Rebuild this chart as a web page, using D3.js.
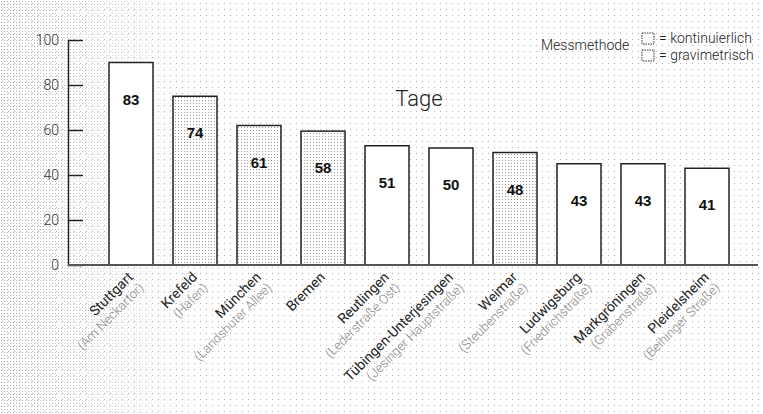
<!DOCTYPE html>
<html>
<head>
<meta charset="utf-8">
<script src="https://cdn.jsdelivr.net/npm/d3@7"></script>
<style>
  body { margin: 0; background: #fff; }
  svg { display: block; font-family: "Liberation Sans", Arial, sans-serif; }
</style>
</head>
<body>
<div id="chart"></div>
<script>
// Messstationen
var cities = ["Stuttgart", "Krefeld", "München", "Bremen", "Reutlingen",
  "Tübingen-Unterjesingen", "Weimar", "Ludwigsburg", "Markgröningen", "Pleidelsheim"];
var stations = ["(Am Neckartor)", "(Hafen)", "(Landshuter Allee)", "", "(Lederstraße Ost)",
  "(Jesinger Hauptstraße)", "(Steubenstraße)", "(Friedrichstraße)", "(Grabenstraße)", "(Beihinger Straße)"];
// Zahlen auf den Balken (Tage)
var tage = [83, 74, 61, 58, 51, 50, 48, 43, 43, 41];
// Balkenhöhen
var barValues = [90, 75, 62, 59.5, 53, 52, 50, 45, 45, 43];
// k = kontinuierlich, g = gravimetrisch
var methode = ["k", "g", "g", "g", "k", "k", "g", "k", "k", "k"];
var yTicks = [0, 20, 40, 60, 80, 100];
var legendItems = ["= kontinuierlich", "= gravimetrisch"];

var w = 763, h = 414;

var svg = d3.select("#chart").append("svg")
  .attr("width", w)
  .attr("height", h);

var defs = svg.append("defs");

// Punktraster fuer gravimetrische Balken
var dense = defs.append("pattern")
  .attr("id", "dense")
  .attr("width", 3).attr("height", 3)
  .attr("patternUnits", "userSpaceOnUse");
dense.append("rect").attr("width", 3).attr("height", 3).attr("fill", "#fff");
dense.append("rect").attr("x", 1).attr("y", 1).attr("width", 1).attr("height", 1).attr("fill", "#9a9a9a");

// lockeres Raster fuer den Hintergrund
var sparse = defs.append("pattern")
  .attr("id", "sparse")
  .attr("width", 6).attr("height", 6)
  .attr("patternUnits", "userSpaceOnUse");
sparse.append("rect").attr("x", 2).attr("y", 3).attr("width", 1).attr("height", 1).attr("fill", "#b0b0b0");

var bgDense = defs.append("pattern")
  .attr("id", "bgDense")
  .attr("width", 3).attr("height", 3)
  .attr("patternUnits", "userSpaceOnUse");
bgDense.append("rect").attr("x", 1).attr("y", 1).attr("width", 1).attr("height", 1).attr("fill", "#aaa");

var grad = defs.append("linearGradient").attr("id", "fade");
grad.append("stop").attr("offset", "0%").attr("stop-color", "#fff").attr("stop-opacity", 1);
grad.append("stop").attr("offset", "100%").attr("stop-color", "#fff").attr("stop-opacity", 0);
defs.append("mask").attr("id", "fadeMask")
  .append("rect").attr("width", 220).attr("height", h).attr("fill", "url(#fade)");

//Hintergrund
svg.append("rect").attr("width", w).attr("height", h).attr("fill", "url(#sparse)");
svg.append("rect").attr("width", 220).attr("height", h)
  .attr("fill", "url(#bgDense)").attr("mask", "url(#fadeMask)");

var x = d3.scaleBand()
  .domain(cities)
  .range([109, 729])
  .paddingInner(0.3125)
  .paddingOuter(0);

var y = d3.scaleLinear()
  .domain([0, 100])
  .range([265, 40]);

// Balken
var bars = svg.append("g");
bars.selectAll("rect")
  .data(cities)
  .enter()
  .append("rect")
  .attr("x", function(d) { return x(d); })
  .attr("y", function(d, i) { return y(barValues[i]); })
  .attr("width", x.bandwidth())
  .attr("height", function(d, i) { return y(0) - y(barValues[i]); })
  .attr("fill", function(d, i) { return methode[i] == "g" ? "url(#dense)" : "#fff"; })
  .attr("stroke", "#222")
  .attr("stroke-width", 1.5);

// Werte
bars.selectAll("text")
  .data(cities)
  .enter()
  .append("text")
  .attr("x", function(d) { return x(d) + x.bandwidth() / 2; })
  .attr("y", function(d, i) { return y(barValues[i]) + 42; })
  .attr("text-anchor", "middle")
  .style("font-size", "15px")
  .style("font-weight", "bold")
  .style("fill", "#111")
  .text(function(d, i) { return tage[i]; });

// y-Achse
var yAxis = d3.axisLeft(y)
  .tickValues(yTicks)
  .tickSizeInner(-15)
  .tickSizeOuter(0)
  .tickPadding(9);

var yBar = svg.append("g")
  .attr("transform", "translate(68,0)")
  .call(yAxis);
yBar.select(".domain").attr("stroke", "#222").attr("stroke-width", 1.5);
yBar.selectAll(".tick line").attr("stroke", "#222").attr("stroke-width", 1.5);
yBar.selectAll(".tick text")
  .style("font-size", "14px")
  .style("font-family", "Roboto, 'Liberation Sans', sans-serif")
  .style("font-weight", 300)
  .style("fill", "#333");

// Grundlinie
svg.append("line")
  .attr("x1", 68).attr("x2", 758)
  .attr("y1", y(0)).attr("y2", y(0))
  .attr("stroke", "#555")
  .attr("stroke-width", 2);

// Beschriftung der Stationen
var labels = svg.append("g").selectAll("g")
  .data(cities)
  .enter()
  .append("g")
  .attr("transform", function(d) {
    return "translate(" + (x(d) + x.bandwidth() / 2 + 3) + ",278) rotate(-45)";
  });

var lab = labels.append("text")
  .attr("text-anchor", "end")
  .style("font-family", "Roboto, 'Liberation Sans', sans-serif");
lab.append("tspan")
  .attr("x", 0).attr("y", 0)
  .style("font-size", "14px")
  .style("fill", "#222")
  .text(function(d) { return d; });
lab.append("tspan")
  .attr("x", 0).attr("dy", 15)
  .style("font-size", "13px")
  .style("font-weight", 300)
  .style("fill", "#8a8a8a")
  .text(function(d, i) { return stations[i]; });

// Titel
svg.append("text")
  .attr("x", 419).attr("y", 106)
  .attr("text-anchor", "middle")
  .style("font-family", "Roboto, 'Liberation Sans', sans-serif")
  .style("font-weight", 300)
  .style("font-size", "22px")
  .style("fill", "#222")
  .text("Tage");

// Legende
var legend = svg.append("g");
legend.append("text")
  .attr("x", 541).attr("y", 50)
  .style("font-family", "Roboto, 'Liberation Sans', sans-serif")
  .style("font-weight", 300)
  .style("font-size", "14px")
  .style("fill", "#222")
  .text("Messmethode");

legend.selectAll("rect")
  .data(legendItems)
  .enter()
  .append("rect")
  .attr("x", 642)
  .attr("y", function(d, i) { return 33 + i * 17; })
  .attr("width", 12)
  .attr("height", 11)
  .attr("fill", "#fff")
  .attr("stroke", "#333")
  .attr("stroke-width", 1)
  .attr("stroke-dasharray", "1.5,1");

legend.selectAll(".lt")
  .data(legendItems)
  .enter()
  .append("text")
  .attr("class", "lt")
  .attr("x", 659)
  .attr("y", function(d, i) { return 43 + i * 17; })
  .style("font-family", "Roboto, 'Liberation Sans', sans-serif")
  .style("font-weight", 300)
  .style("font-size", "14px")
  .style("fill", "#222")
  .text(function(d) { return d; });
</script>
</body>
</html>
